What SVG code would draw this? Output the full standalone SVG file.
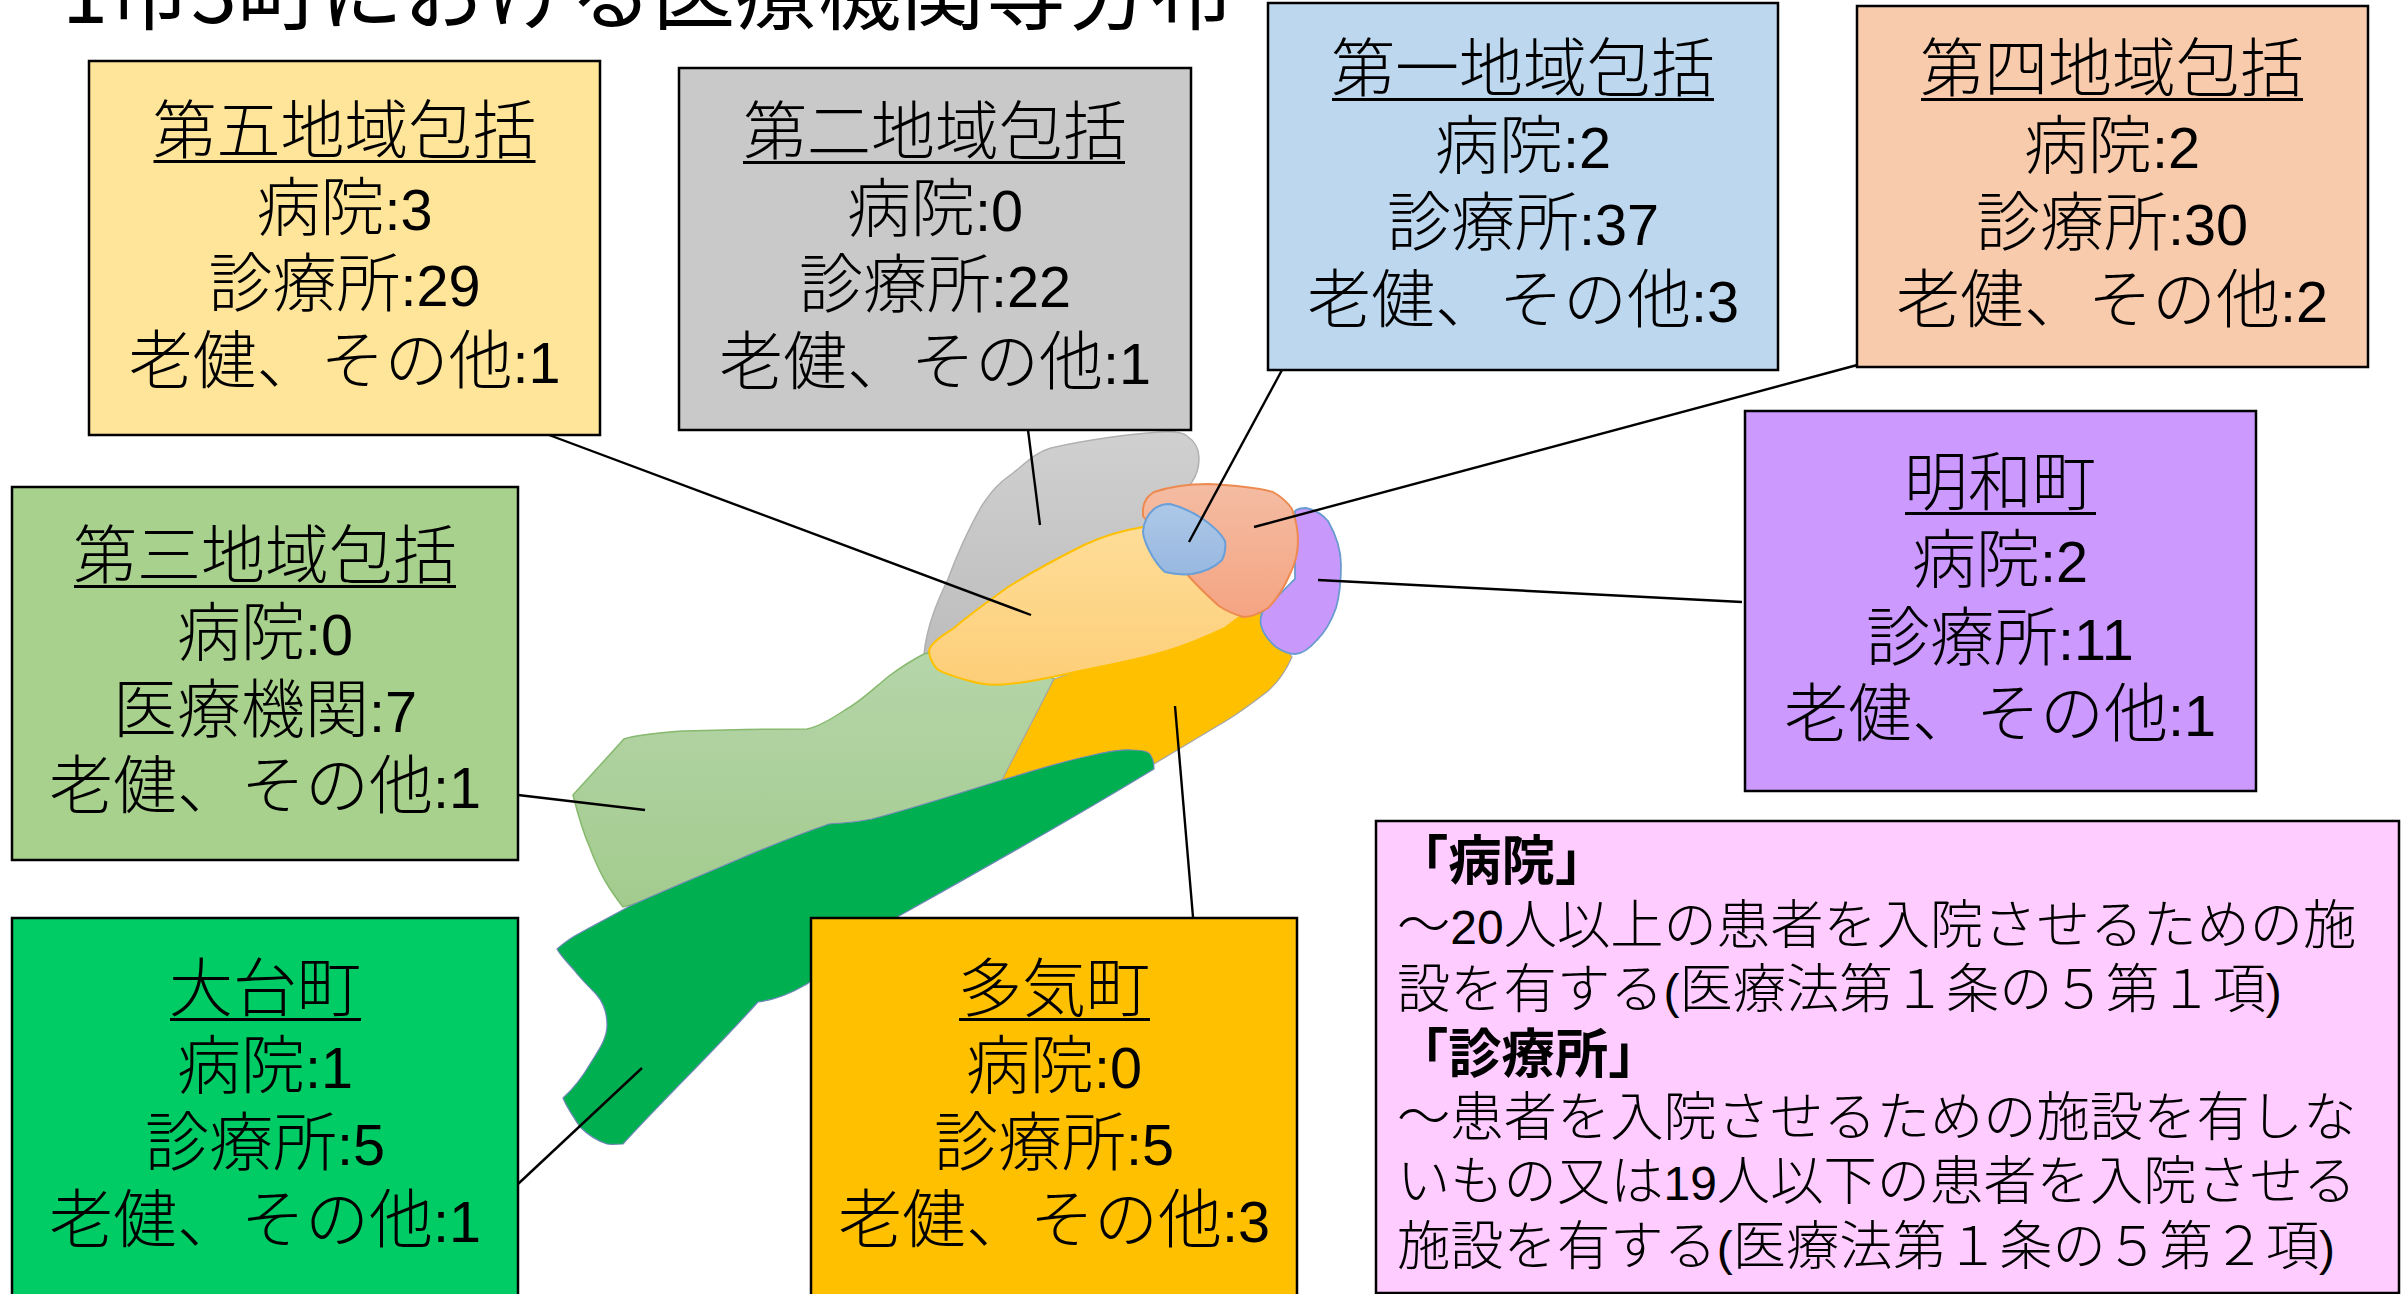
<svg xmlns="http://www.w3.org/2000/svg" width="2408" height="1294" viewBox="0 0 2408 1294">
<style>
text{font-family:"Noto Sans CJK JP","Noto Sans",sans-serif;fill:#000;font-weight:300}
.t{font-size:64px;text-anchor:middle}
.d{font-family:"Liberation Sans",sans-serif;font-size:.9em;font-weight:400}
.p{font-size:53.3px}
.b{font-weight:700}
.title{font-size:83px;font-weight:400}
.box{stroke:#000;stroke-width:2.5}
.u{fill:#000}
.c line{stroke:#000;stroke-width:2.4}
</style>
<defs>
<linearGradient id="gGray" x1="0" y1="0" x2="0" y2="1"><stop offset="0" stop-color="#d0d0d0"/><stop offset="1" stop-color="#bdbdbd"/></linearGradient>
<linearGradient id="gYel" x1="0" y1="0" x2="0" y2="1"><stop offset="0" stop-color="#fedd98"/><stop offset="1" stop-color="#fdce78"/></linearGradient>
<linearGradient id="gGrn" x1="0" y1="0" x2="0" y2="1"><stop offset="0" stop-color="#b6d6aa"/><stop offset="1" stop-color="#a3cb8e"/></linearGradient>
<linearGradient id="gSal" x1="0" y1="0" x2="0" y2="1"><stop offset="0" stop-color="#f4bca3"/><stop offset="1" stop-color="#f5a482"/></linearGradient>
<linearGradient id="gBlu" x1="0" y1="0" x2="0" y2="1"><stop offset="0" stop-color="#adc8e8"/><stop offset="1" stop-color="#98b8e0"/></linearGradient>
</defs>
<text class="title" x="62" y="23">1市3町における医療機関等分布</text>
<g id="map">
<path id="r2" fill="url(#gGray)" stroke="#b0b0b0" stroke-width="1.5" d="M924 654C927 625 938 600 948 579C958 552 968 530 981 507C992 490 1000 482 1013 473C1026 463 1036 452 1051 448C1085 440 1130 434 1160 432C1175 431 1183 432 1187 436C1196 442 1199 450 1199 458C1199 470 1196 476 1192 482L1143 545L1008 642Z"/>
<path id="r3" fill="url(#gGrn)" stroke="#86b96e" stroke-width="1.5" d="M924 654C912 660 900 668 889 676C872 690 860 702 845 710C830 720 818 727 807 729C760 729 720 730 683 731C655 733 635 735 624 739L573 795C578 815 583 832 590 848C600 875 610 890 623 907L829 850L1002 790L1054 679L980 640Z"/>
<path id="r6" fill="#ffc000" stroke="#a5a5a5" stroke-width="1.2" d="M1054 679L1244 616L1263 613L1292 657C1284 675 1276 684 1268 691C1250 705 1235 716 1219 725L1154 764L1002 780Z"/>
<path id="r5" fill="url(#gYel)" stroke="#ffc000" stroke-width="2" d="M929 650C932 642 942 636 954 628C970 614 990 600 1008 587C1035 570 1060 557 1084 545C1105 535 1125 530 1143 527L1192 579L1241 616C1235 620 1230 624 1225 628C1210 635 1190 644 1170 650C1145 658 1115 664 1089 669C1060 675 1035 682 1008 684C990 686 980 684 970 681C955 677 943 673 937 669C931 662 929 656 929 650Z"/>
<path id="r7" fill="#00b050" stroke="#6f87b8" stroke-width="1.2" d="M557 949C565 942 572 937 580 933C596 924 612 916 628 907C665 890 700 876 737 860C770 846 800 834 829 824C845 823 858 822 872 819C915 808 960 793 1002 780C1030 772 1060 762 1089 756C1105 752 1120 749 1132 750C1143 750 1150 752 1151 756C1154 760 1154 764 1154 769C1070 820 985 868 899 916L807 984C790 994 775 1000 758 1002C715 1050 665 1098 623 1144C617 1144 612 1145 607 1144C595 1140 587 1134 580 1127C572 1115 566 1106 563 1098C574 1088 583 1076 590 1064C600 1048 607 1038 607 1025C607 1012 603 1002 596 994C586 984 580 978 574 970C567 962 560 955 557 949Z"/>
<path id="r8" fill="#c899fb" stroke="#6a9bd0" stroke-width="1.8" d="M1295 511C1298 508 1302 508 1306 508C1316 510 1323 515 1328 521C1336 535 1341 550 1341 565C1341 580 1340 594 1336 608C1331 622 1325 632 1317 640C1310 648 1302 654 1295 654C1288 654 1282 651 1276 647C1268 640 1263 634 1261 625C1260 620 1261 615 1263 611L1295 579Z"/>
<path id="r4" fill="url(#gSal)" stroke="#ed8a50" stroke-width="2" d="M1143 509C1144 500 1148 496 1154 492C1172 486 1190 484 1208 484C1230 485 1255 487 1273 492C1282 497 1288 503 1292 509C1296 520 1298 530 1298 541C1298 552 1295 564 1290 574C1283 590 1276 600 1268 608C1260 613 1252 617 1244 617C1236 615 1228 612 1219 606C1208 596 1197 586 1187 574L1143 516Z"/>
<path id="r1" fill="url(#gBlu)" stroke="#6a9fd8" stroke-width="2" d="M1143 531C1144 522 1148 514 1154 509C1159 505 1164 504 1170 504C1182 507 1194 513 1203 519C1213 526 1221 533 1225 541C1226 548 1225 554 1222 560C1214 568 1204 572 1192 574C1182 575 1173 574 1165 572C1158 566 1153 558 1149 550C1146 544 1143 538 1143 531Z"/>
</g>
<g id="connectors" class="c">
<line x1="549" y1="435" x2="1031" y2="615"/>
<line x1="1028" y1="430" x2="1040" y2="525"/>
<line x1="1282" y1="370" x2="1189" y2="542"/>
<line x1="1861" y1="364" x2="1254" y2="527"/>
<line x1="1742" y1="602" x2="1318" y2="580"/>
<line x1="518" y1="795" x2="645" y2="810"/>
<line x1="1193" y1="917" x2="1175" y2="706"/>
<line x1="518" y1="1184" x2="642" y2="1068"/>
</g>
<g id="n5"><rect class="box" x="89" y="61" width="511" height="374" fill="#ffe599"/><rect class="u" x="153.5" y="160" width="382" height="3"/>
<text class="t"><tspan x="344.5" y="153">第五地域包括</tspan><tspan x="344.5" y="230">病院<tspan class="d">:3</tspan></tspan><tspan x="344.5" y="306">診療所<tspan class="d">:29</tspan></tspan><tspan x="344.5" y="383">老健、その他<tspan class="d">:1</tspan></tspan></text></g>
<g id="n2"><rect class="box" x="679" y="68" width="512" height="362" fill="#c9c9c9"/><rect class="u" x="743" y="161" width="382" height="3"/>
<text class="t"><tspan x="935" y="154">第二地域包括</tspan><tspan x="935" y="231">病院<tspan class="d">:0</tspan></tspan><tspan x="935" y="307">診療所<tspan class="d">:22</tspan></tspan><tspan x="935" y="384">老健、その他<tspan class="d">:1</tspan></tspan></text></g>
<g id="n1"><rect class="box" x="1268" y="3" width="510" height="367" fill="#bdd7ee"/><rect class="u" x="1332" y="98" width="382" height="3"/>
<text class="t"><tspan x="1523" y="91">第一地域包括</tspan><tspan x="1523" y="168">病院<tspan class="d">:2</tspan></tspan><tspan x="1523" y="245">診療所<tspan class="d">:37</tspan></tspan><tspan x="1523" y="322">老健、その他<tspan class="d">:3</tspan></tspan></text></g>
<g id="n4"><rect class="box" x="1857" y="6" width="511" height="361" fill="#f8cbad"/><rect class="u" x="1921" y="98" width="382" height="3"/>
<text class="t"><tspan x="2112" y="91">第四地域包括</tspan><tspan x="2112" y="168">病院<tspan class="d">:2</tspan></tspan><tspan x="2112" y="245">診療所<tspan class="d">:30</tspan></tspan><tspan x="2112" y="322">老健、その他<tspan class="d">:2</tspan></tspan></text></g>
<g id="n3"><rect class="box" x="12" y="487" width="506" height="373" fill="#a9d18e"/><rect class="u" x="74" y="585" width="382" height="3"/>
<text class="t"><tspan x="265" y="578">第三地域包括</tspan><tspan x="265" y="655">病院<tspan class="d">:0</tspan></tspan><tspan x="265" y="732">医療機関<tspan class="d">:7</tspan></tspan><tspan x="265" y="808">老健、その他<tspan class="d">:1</tspan></tspan></text></g>
<g id="n8"><rect class="box" x="1745" y="411" width="511" height="380" fill="#cc99ff"/><rect class="u" x="1905" y="512" width="191" height="3"/>
<text class="t"><tspan x="2000" y="505">明和町</tspan><tspan x="2000" y="582">病院<tspan class="d">:2</tspan></tspan><tspan x="2000" y="660">診療所<tspan class="d">:11</tspan></tspan><tspan x="2000" y="736">老健、その他<tspan class="d">:1</tspan></tspan></text></g>
<g id="n7"><rect class="box" x="12" y="918" width="506" height="380" fill="#00cc66"/><rect class="u" x="170" y="1018" width="191" height="3"/>
<text class="t"><tspan x="265" y="1011">大台町</tspan><tspan x="265" y="1088">病院<tspan class="d">:1</tspan></tspan><tspan x="265" y="1165">診療所<tspan class="d">:5</tspan></tspan><tspan x="265" y="1242">老健、その他<tspan class="d">:1</tspan></tspan></text></g>
<g id="n6"><rect class="box" x="811" y="918" width="486" height="380" fill="#ffc000"/><rect class="u" x="959" y="1018" width="191" height="3"/>
<text class="t"><tspan x="1054" y="1011">多気町</tspan><tspan x="1054" y="1088">病院<tspan class="d">:0</tspan></tspan><tspan x="1054" y="1165">診療所<tspan class="d">:5</tspan></tspan><tspan x="1054" y="1242">老健、その他<tspan class="d">:3</tspan></tspan></text></g>
<g id="legend"><rect class="box" x="1376" y="821" width="1023" height="472" fill="#ffccff"/>
<text class="p"><tspan class="b" x="1395" y="880">「病院」</tspan><tspan x="1397" y="944">～<tspan class="d">20</tspan>人以上の患者を入院させるための施</tspan><tspan x="1397" y="1008">設を有する<tspan class="d">(</tspan>医療法第１条の５第１項<tspan class="d">)</tspan></tspan><tspan class="b" x="1395" y="1073">「診療所」</tspan><tspan x="1397" y="1136">～患者を入院させるための施設を有しな</tspan><tspan x="1397" y="1200">いもの又は<tspan class="d">19</tspan>人以下の患者を入院させる</tspan><tspan x="1397" y="1265">施設を有する<tspan class="d">(</tspan>医療法第１条の５第２項<tspan class="d">)</tspan></tspan></text></g>
</svg>
